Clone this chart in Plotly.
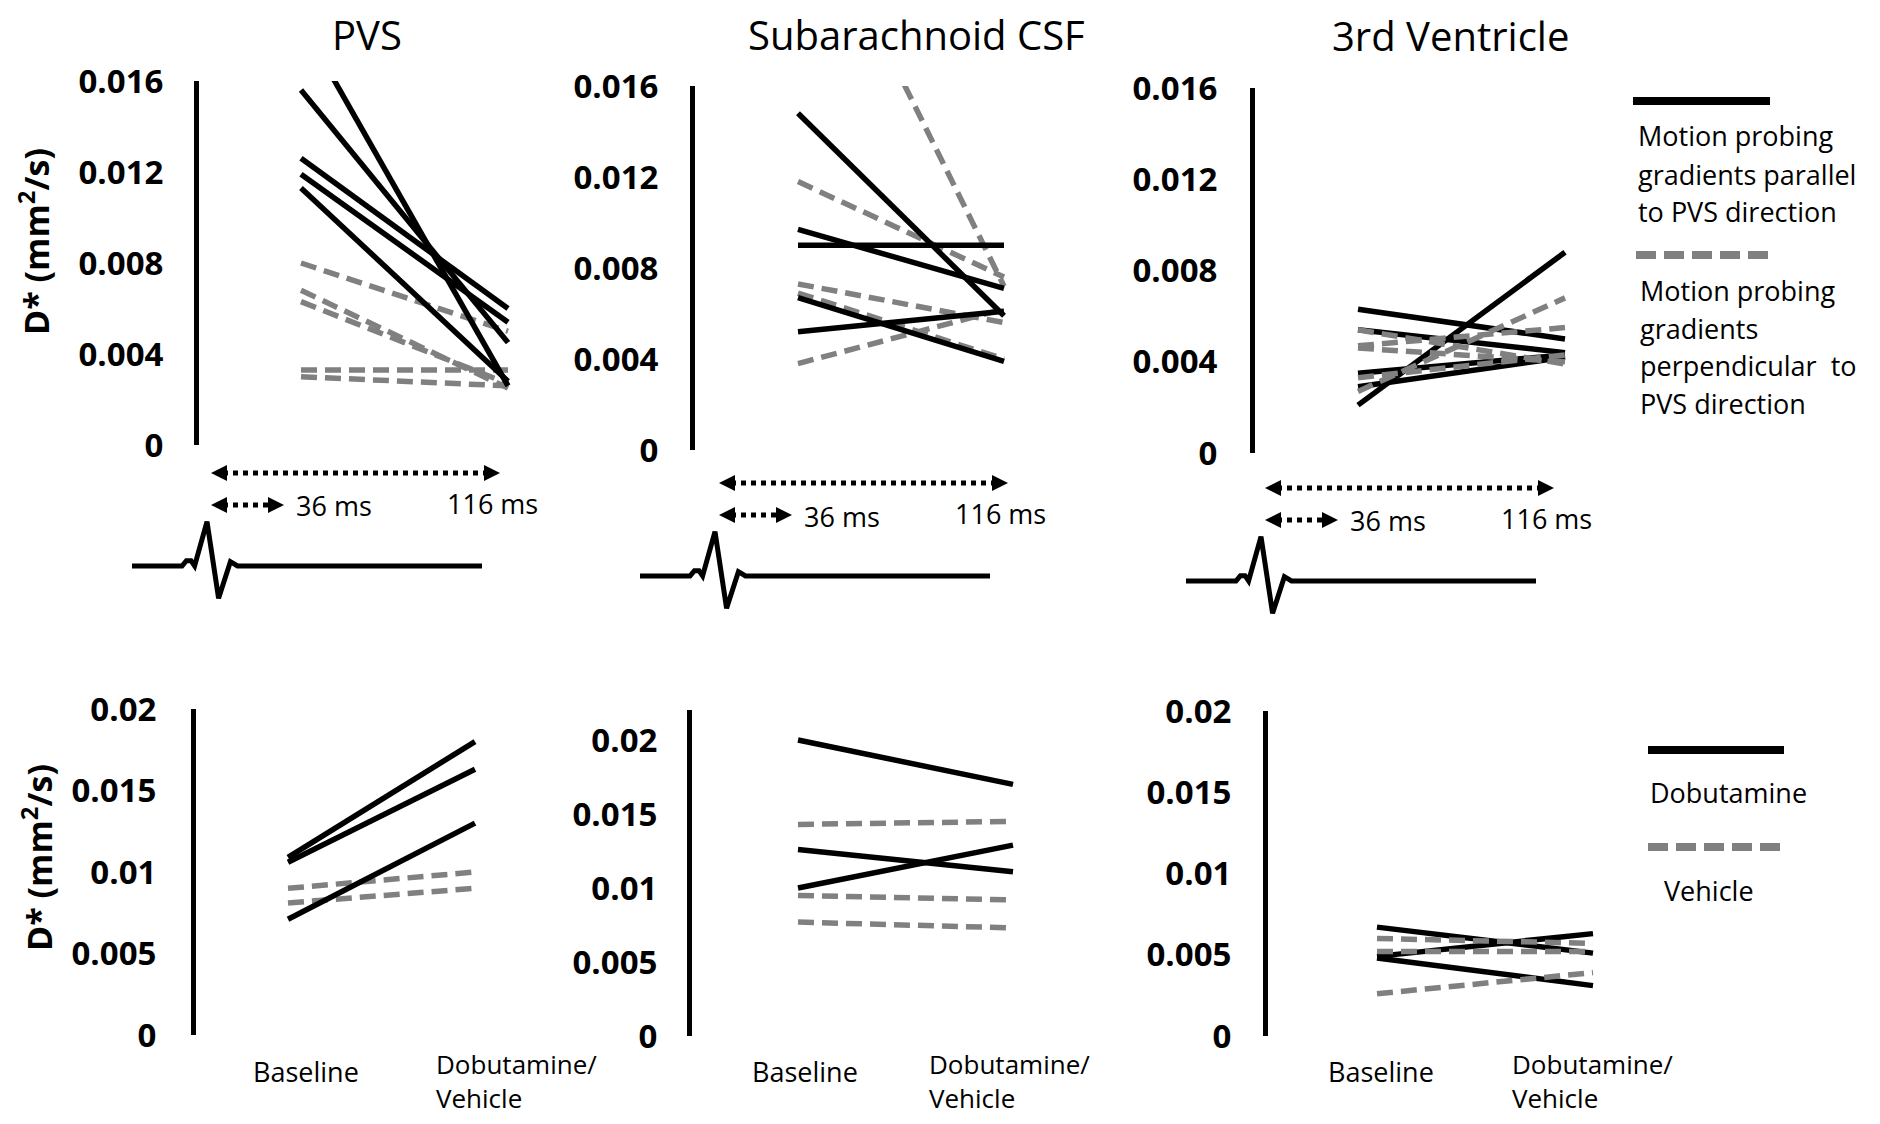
import plotly.graph_objects as go

# ---------------- data ----------------
top_x_labels = ["36 ms", "116 ms"]
bottom_x_labels = ["Baseline", "Dobutamine/<br>Vehicle"]
x_index = [0, 1]

top_tickvals = [0, 0.004, 0.008, 0.012, 0.016]
top_ticktext = ["0", "0.004", "0.008", "0.012", "0.016"]
bot_tickvals = [0, 0.005, 0.01, 0.015, 0.02]
bot_ticktext = ["0", "0.005", "0.01", "0.015", "0.02"]

# PVS, top row (parallel = solid, perpendicular = dashed)
pvs_par_36 = [0.0186, 0.0156, 0.0126, 0.0119, 0.0113]
pvs_par_116 = [0.0026, 0.0045, 0.0060, 0.0054, 0.0028]
pvs_perp_36 = [0.0080, 0.0068, 0.0063, 0.0033, 0.0030]
pvs_perp_116 = [0.0050, 0.0025, 0.0027, 0.0033, 0.0026]

# Subarachnoid CSF, top row
sas_par_36 = [0.0148, 0.0097, 0.0090, 0.0067, 0.0052]
sas_par_116 = [0.0059, 0.0071, 0.0090, 0.0039, 0.0061]
sas_perp_36 = [0.0255, 0.0118, 0.0073, 0.0069, 0.0038]
sas_perp_116 = [0.0072, 0.0076, 0.0056, 0.0040, 0.0062]

# 3rd ventricle, top row
v3_par_36 = [0.0063, 0.0054, 0.0035, 0.0029, 0.0021]
v3_par_116 = [0.0050, 0.0044, 0.0043, 0.0042, 0.0088]
v3_perp_36 = [0.0054, 0.0047, 0.0046, 0.0033, 0.0027]
v3_perp_116 = [0.0039, 0.0055, 0.0040, 0.0043, 0.0068]

# bottom row: baseline vs dobutamine / vehicle
pvs_dob_base = [0.0109, 0.0106, 0.0071]
pvs_dob_post = [0.0180, 0.0163, 0.0130]
pvs_veh_base = [0.0090, 0.0081]
pvs_veh_post = [0.0100, 0.0090]

sas_dob_base = [0.0200, 0.0126, 0.0100]
sas_dob_post = [0.0170, 0.0111, 0.0129]
sas_veh_base = [0.0143, 0.0095, 0.0077]
sas_veh_post = [0.0145, 0.0092, 0.0073]

v3_dob_base = [0.0067, 0.0049, 0.0048]
v3_dob_post = [0.0051, 0.0063, 0.0031]
v3_veh_base = [0.0060, 0.0052, 0.0026]
v3_veh_post = [0.0057, 0.0052, 0.0039]

# ---------------- layout helpers ----------------
W, H, OFF = 1864, 1108, 8
FONT = "Open Sans"
BLACK = "#000000"
GRAY = "#808080"


def px(x):
    return (x - OFF) / W


def py(y):
    return 1 - (y - OFF) / H


panels = [
    dict(ax=199, x0=301, x1=508, right=540, top=81, bot=445, ymax=0.016, tv=top_tickvals, tt=top_ticktext, tl=24,
         series=[(pvs_perp_36, pvs_perp_116, "dash"), (pvs_par_36, pvs_par_116, "solid")]),
    dict(ax=695, x0=798, x1=1004, right=1040, top=86, bot=450, ymax=0.016, tv=top_tickvals, tt=top_ticktext, tl=25,
         series=[(sas_perp_36, sas_perp_116, "dash"), (sas_par_36, sas_par_116, "solid")]),
    dict(ax=1255, x0=1358, x1=1565, right=1600, top=88, bot=453, ymax=0.016, tv=top_tickvals, tt=top_ticktext, tl=26,
         series=[(v3_par_36, v3_par_116, "solid"), (v3_perp_36, v3_perp_116, "dash")]),
    dict(ax=196, x0=288, x1=475, right=520, top=709, bot=1035, ymax=0.02, tv=bot_tickvals, tt=bot_ticktext, tl=28,
         series=[(pvs_veh_base, pvs_veh_post, "dash"), (pvs_dob_base, pvs_dob_post, "solid")]),
    dict(ax=692, x0=798, x1=1013, right=1050, top=710, bot=1036, ymax=0.02203, tv=bot_tickvals, tt=bot_ticktext, tl=23,
         series=[(sas_veh_base, sas_veh_post, "dash"), (sas_dob_base, sas_dob_post, "solid")]),
    dict(ax=1268, x0=1377, x1=1593, right=1630, top=711, bot=1036, ymax=0.02, tv=bot_tickvals, tt=bot_ticktext, tl=25,
         series=[(v3_dob_base, v3_dob_post, "solid"), (v3_veh_base, v3_veh_post, "dash")]),
]

fig = go.Figure()
layout_axes = {}
for i, p in enumerate(panels, start=1):
    sfx = "" if i == 1 else str(i)
    scale = p["x1"] - p["x0"]
    layout_axes["xaxis" + sfx] = dict(
        domain=[px(p["ax"]), px(p["right"])],
        range=[(p["ax"] - p["x0"]) / scale, (p["right"] - p["x0"]) / scale],
        visible=False, fixedrange=True, anchor="y" + sfx,
    )
    layout_axes["yaxis" + sfx] = dict(
        domain=[py(p["bot"]), py(p["top"])],
        range=[0, p["ymax"]], anchor="x" + sfx,
        showline=True, linewidth=5, linecolor=BLACK, mirror=False,
        showgrid=False, zeroline=False,
        ticks="outside", ticklen=p["tl"], tickwidth=1, tickcolor="rgba(0,0,0,0)",
        tickvals=p["tv"], ticktext=p["tt"],
        tickfont=dict(family=FONT, size=33, color=BLACK, weight="bold"),
        automargin=False, fixedrange=True,
    )
    for base, post, style in p["series"]:
        for a, b in zip(base, post):
            if style == "solid":
                line = dict(color=BLACK, width=5.5)
            else:
                line = dict(color=GRAY, width=5.5, dash="16px,8px")
            fig.add_trace(go.Scatter(
                x=x_index, y=[a, b], mode="lines", line=line,
                xaxis="x" + sfx, yaxis="y" + sfx, showlegend=False, hoverinfo="skip",
            ))

annotations = []


def ann(text, x, y, size, xanchor="center", bold=False, angle=0, yanchor="middle", align="center"):
    annotations.append(dict(
        text=text, x=px(x), y=py(y), xref="paper", yref="paper", showarrow=False,
        xanchor=xanchor, yanchor=yanchor, textangle=angle, align=align,
        font=dict(family=FONT, size=size, color=BLACK, weight="bold" if bold else "normal"),
    ))


# panel titles
ann("PVS", 367, 34, 40)
ann("Subarachnoid CSF", 916, 34, 40)
ann("3rd Ventricle", 1450, 35, 40)

# y-axis titles
ann("D* (mm<sup>2</sup>/s)", 34, 242, 34, bold=True, angle=-90)
ann("D* (mm<sup>2</sup>/s)", 37, 858, 34, bold=True, angle=-90)

# bottom x labels (Baseline centre, Dobutamine/Vehicle left edge)
for bx, dx in [(306, 434), (805, 927), (1381, 1510)]:
    ann(bottom_x_labels[0], bx, 1071, 27)
    ann(bottom_x_labels[1], dx, 1081, 26, xanchor="left", align="left")

shapes = []

# legends (top)
shapes.append(dict(type="line", xref="paper", yref="paper", x0=px(1633), x1=px(1770), y0=py(101), y1=py(101),
                   line=dict(color=BLACK, width=8)))
shapes.append(dict(type="line", xref="paper", yref="paper", x0=px(1636), x1=px(1770), y0=py(255), y1=py(255),
                   line=dict(color=GRAY, width=8, dash="20px,8px")))
for j, t in enumerate(["Motion probing", "gradients parallel", "to PVS direction"]):
    ann(t, 1636, 136 + 38 * j, 27, xanchor="left")
for j, t in enumerate(["Motion probing", "gradients", "perpendicular  to", "PVS direction"]):
    ann(t, 1638, 290 + 38 * j, 27, xanchor="left")

# legends (bottom)
shapes.append(dict(type="line", xref="paper", yref="paper", x0=px(1648), x1=px(1784), y0=py(750), y1=py(750),
                   line=dict(color=BLACK, width=8)))
shapes.append(dict(type="line", xref="paper", yref="paper", x0=px(1648), x1=px(1788), y0=py(847), y1=py(847),
                   line=dict(color=GRAY, width=8, dash="20px,8px")))
ann("Dobutamine", 1648, 792, 27, xanchor="left")
ann("Vehicle", 1662, 890, 27, xanchor="left")


# timing arrows + ECG sketch under each top panel
def triangle(tip_x, y, direction):
    base_x = tip_x - direction * 16
    return dict(type="path", xref="paper", yref="paper", fillcolor=BLACK, line=dict(width=0),
                path=f"M {px(tip_x)},{py(y)} L {px(base_x)},{py(y - 8)} L {px(base_x)},{py(y + 8)} Z")


def arrow(xa, xb, y):
    shapes.append(dict(type="line", xref="paper", yref="paper", x0=px(xa + 12), x1=px(xb - 12),
                       y0=py(y), y1=py(y), line=dict(color=BLACK, width=5, dash="dot")))
    shapes.append(triangle(xa, y, -1))
    shapes.append(triangle(xb, y, 1))


ecg_dx = [-79, -29, -24.6, -20, -16.4, -4, 7.6, 19.4, 26.5, 271]
ecg_dy = [93, 93, 87.7, 87.7, 93, 48.7, 125.3, 88.7, 93, 93]

for ox, oy in [(211, 473), (719, 483), (1265, 488)]:
    arrow(ox, ox + 289, oy)
    arrow(ox, ox + 73, oy + 32)
    ann(top_x_labels[0], ox + 83, oy + 33, 27, xanchor="left")
    ann(top_x_labels[1], ox + 234, oy + 30, 27, xanchor="left")
    path = " ".join(("M" if k == 0 else "L") + f" {px(ox + dx)},{py(oy + dy)}"
                    for k, (dx, dy) in enumerate(zip(ecg_dx, ecg_dy)))
    shapes.append(dict(type="path", xref="paper", yref="paper", path=path,
                       line=dict(color=BLACK, width=5)))

fig.update_layout(
    width=W, height=H, margin=dict(l=0, r=0, t=0, b=0),
    paper_bgcolor="white", plot_bgcolor="rgba(0,0,0,0)",
    font=dict(family=FONT, color=BLACK),
    showlegend=False, annotations=annotations, shapes=shapes,
    **layout_axes,
)

fig.write_html("out.html")
